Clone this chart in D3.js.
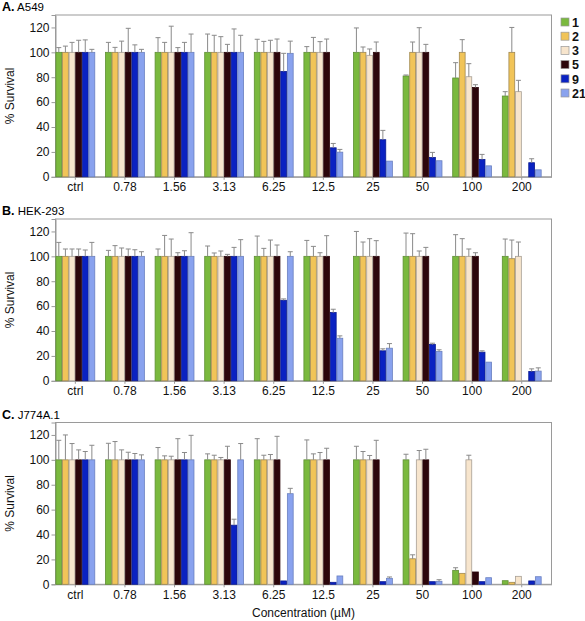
<!DOCTYPE html>
<html>
<head>
<meta charset="utf-8">
<script src="https://cdn.jsdelivr.net/npm/d3@7"></script>
<style>
body { margin: 0; background: #fff; }
svg { display: block; font-family: "Liberation Sans", Arial, sans-serif; }
</style>
</head>
<body>
<svg id="chart" width="585" height="621"></svg>
<script>
const concentrations = ["ctrl", "0.78", "1.56", "3.13", "6.25", "12.5", "25", "50", "100", "200"];
const compounds = ["1", "2", "3", "5", "9", "21"];
const yTicks = [0, 20, 40, 60, 80, 100, 120];

const a549Mean = [
  [100, 100, 100, 100, 100, 100],
  [100, 100, 100, 100, 100, 100],
  [100, 100, 100, 100, 100, 100],
  [100, 100, 100, 100, 100, 100],
  [100, 100, 100, 100, 84.7, 99.2],
  [100, 100, 100, 100, 23.3, 19.8],
  [100, 100, 97.6, 100, 29.8, 12.6],
  [81, 100, 100, 100, 15.5, 12.9],
  [79.4, 100, 80.4, 71.8, 13.9, 8.8],
  [64.9, 100, 68.4, null, 11.3, 5.6]
];
const a549Err = [
  [3.8, 5, 8, 9.7, 10, 2.4],
  [8, 4, 9, 19.3, 6, 2.4],
  [11.8, 8, 21, 3.8, 8, 14.7],
  [14.7, 13.7, 12.6, 6.4, 18.8, 13.7],
  [10.5, 8.8, 9.7, 10.7, 14.5, 9.8],
  [4.6, 12, 8.6, 10.7, 3.5, 2.2],
  [19.6, 4.3, 5.1, 8.3, 7.5, 0.3],
  [0.8, 8.3, 19.8, 6.4, 4.1, 0.2],
  [12.3, 10.2, 10.5, 2.2, 4.1, 0.3],
  [3.5, 20, 9.1, 0, 3.2, 0.3]
];

const hekMean = [
  [100, 100, 100, 100, 100, 100],
  [100, 100, 100, 100, 100, 100],
  [100, 100, 100, 100, 100, 100],
  [100, 100, 100, 100, 100, 100],
  [100, 100, 100, 100, 64.7, 100],
  [100, 100, 100, 100, 54.8, 34.2],
  [100, 100, 100, 100, 24.1, 26.2],
  [100, 100, 100, 100, 29.1, 23.5],
  [100, 100, 100, 100, 23, 15],
  [100, 98.1, 100, null, 7.5, 7.8]
];
const hekErr = [
  [11.2, 5.9, 5.9, 5.9, 5.1, 11.2],
  [4.8, 8.6, 6.7, 5.9, 5.3, 3.7],
  [5.9, 16.8, 13.9, 2.9, 4.5, 19],
  [8.3, 2.7, 4.3, 1.6, 7.2, 13.4],
  [16.3, 6.4, 13.1, 9.1, 1.1, 3.7],
  [12.8, 8, 2.9, 16.6, 2.7, 1.9],
  [20, 11.5, 14.2, 12.6, 1.6, 3.7],
  [18.7, 18.2, 4.3, 7.2, 1.1, 1.4],
  [17.4, 14.2, 5.9, 2.9, 1.1, 0.2],
  [13.9, 15, 11.5, 0, 2.1, 2.6]
];

const j774Mean = [
  [100, 100, 100, 100, 100, 100],
  [100, 100, 100, 100, 100, 100],
  [100, 100, 100, 100, 100, 100],
  [100, 100, 100, 100, 47.5, 100],
  [100, 100, 100, 100, 2.7, 72.8],
  [100, 100, 100, 100, 1.6, 6.7],
  [100, 100, 100, 100, 2.1, 4.8],
  [100, 20.5, 100, 100, 2.1, 2.4],
  [11.2, 8.8, 100, 9.9, 2.1, 5.3],
  [2.9, 1.6, 6.4, null, 2.7, 6.1]
];
const j774Err = [
  [15.7, 20, 13.1, 8, 6.7, 11.7],
  [13.3, 14.7, 8, 6.1, 5.1, 4],
  [9.9, 3.2, 2.9, 17, 5.9, 19.7],
  [4.8, 3.7, 1.9, 10.9, 4.8, 13.1],
  [17, 3.7, 4.3, 18.9, 0, 4.3],
  [16, 4.8, 5.9, 9.3, 0, 0.2],
  [10.9, 6.7, 3.5, 15.7, 0, 1.1],
  [4.5, 3.2, 7.5, 8.5, 0, 1.3],
  [2.1, 0.3, 3.7, 0.2, 0, 0.3],
  [0, 0, 0.3, 0, 0, 0]
];

const panelLetters = ["A.", "B.", "C."];
const panelNames = ["A549", "HEK-293", "J774A.1"];
const panelMeans = [a549Mean, hekMean, j774Mean];
const panelErrs = [a549Err, hekErr, j774Err];

const colors = ["#7ab93e", "#f1c458", "#f7e5cd", "#2c060b", "#0a22c2", "#89a2ee"];
const strokes = ["#5e8f33", "#a08850", "#a8a095", "#2c060b", "#0a1a90", "#6a80c0"];

const svg = d3.select("#chart");
const left = 55.5, right = 551.5;
const panelTops = [15, 219, 422.5];
const panelH = 161.8;

const x = d3.scaleBand().domain(concentrations).range([left, right])
  .paddingInner(0.2).paddingOuter(0.1).align(0);
const xi = d3.scaleBand().domain(compounds).range([0, x.bandwidth()]).padding(0);

panelTops.forEach((top, p) => {
  const bottom = top + panelH;
  const y = d3.scaleLinear().domain([0, 130]).range([bottom, top]);
  const g = svg.append("g");

  // title
  const t = g.append("text").attr("x", 2).attr("y", top - 4).attr("font-size", 12.5);
  t.append("tspan").attr("font-weight", "bold").text(panelLetters[p]);
  t.append("tspan").attr("font-size", 11.5).text(" " + panelNames[p]);

  // box
  g.append("rect").attr("x", left).attr("y", top).attr("width", right - left).attr("height", panelH)
    .attr("fill", "none").attr("stroke", "#9a9a9a").attr("stroke-width", 1);

  // y axis
  const ya = g.append("g").attr("transform", `translate(${left},0)`)
    .call(d3.axisLeft(y).tickValues(yTicks).tickSize(4).tickPadding(2));
  ya.select(".domain").attr("stroke", "#9a9a9a");
  ya.selectAll(".tick line").attr("stroke", "#9a9a9a");
  ya.selectAll("text").attr("font-size", 12).attr("fill", "#111").attr("font-family", "Liberation Sans, Arial, sans-serif");

  // x axis
  const xa = g.append("g").attr("transform", `translate(0,${bottom})`)
    .call(d3.axisBottom(x).tickSize(3).tickPadding(3).tickSizeOuter(0));
  xa.select(".domain").attr("stroke", "#9a9a9a");
  xa.selectAll(".tick line").attr("stroke", "#9a9a9a");
  xa.selectAll("text").attr("font-size", 12).attr("fill", "#111").attr("font-family", "Liberation Sans, Arial, sans-serif");

  // y label
  g.append("text").attr("transform", `translate(14,${(top + bottom) / 2}) rotate(-90)`)
    .attr("text-anchor", "middle").attr("font-size", 12).attr("fill", "#111").text("% Survival");

  // bars
  const rows = [];
  concentrations.forEach((c, i) => {
    compounds.forEach((k, j) => {
      const v = panelMeans[p][i][j];
      if (v === null) return;
      rows.push({ c, k, j, v, e: panelErrs[p][i][j] });
    });
  });

  const bars = g.append("g");
  bars.selectAll("rect").data(rows).join("rect")
    .attr("x", d => x(d.c) + xi(d.k) + 0.4)
    .attr("width", xi.bandwidth() - 0.8)
    .attr("y", d => y(d.v))
    .attr("height", d => y(0) - y(d.v))
    .attr("fill", d => colors[d.j])
    .attr("stroke", d => strokes[d.j])
    .attr("stroke-width", 0.8);

  const errs = g.append("g").attr("stroke", "#8a8a8a").attr("stroke-width", 1);
  const er = rows.filter(d => d.e > 0.5);
  errs.selectAll("line.v").data(er).join("line").attr("class", "v")
    .attr("x1", d => x(d.c) + xi(d.k) + xi.bandwidth() / 2)
    .attr("x2", d => x(d.c) + xi(d.k) + xi.bandwidth() / 2)
    .attr("y1", d => y(d.v))
    .attr("y2", d => y(d.v + d.e));
  errs.selectAll("line.c").data(er).join("line").attr("class", "c")
    .attr("x1", d => x(d.c) + xi(d.k) + xi.bandwidth() / 2 - 2.5)
    .attr("x2", d => x(d.c) + xi(d.k) + xi.bandwidth() / 2 + 2.5)
    .attr("y1", d => y(d.v + d.e))
    .attr("y2", d => y(d.v + d.e));
});

// x title
svg.append("text").attr("x", (left + right) / 2).attr("y", 617).attr("text-anchor", "middle")
  .attr("font-size", 12).attr("fill", "#111").text("Concentration (\u00b5M)");

// legend
const lg = svg.append("g");
compounds.forEach((k, j) => {
  const yy = 22.5 + j * 14.2;
  lg.append("rect").attr("x", 561).attr("y", yy - 4.5).attr("width", 8).attr("height", 8)
    .attr("fill", colors[j]).attr("stroke", "#999").attr("stroke-width", 0.7);
  lg.append("text").attr("x", 572).attr("y", yy + 4.2).attr("font-size", 12.5)
    .attr("font-weight", "bold").attr("fill", "#111").text(k);
});
</script>
</body>
</html>
